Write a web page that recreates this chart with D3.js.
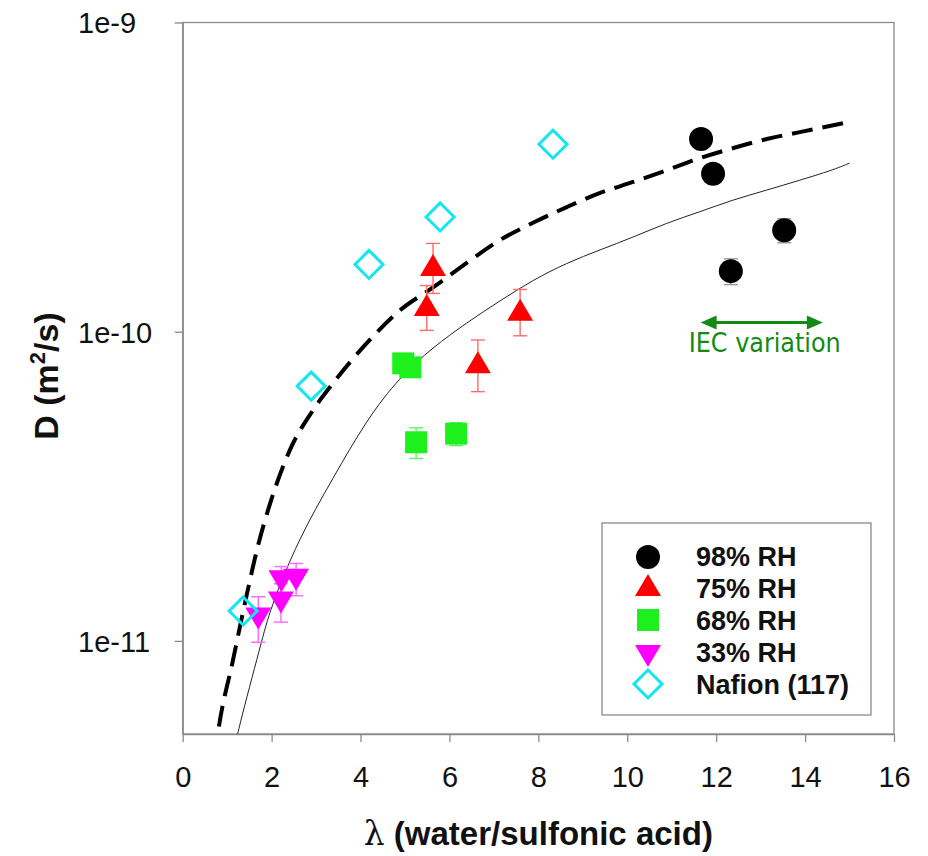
<!DOCTYPE html>
<html>
<head>
<meta charset="utf-8">
<script src="https://cdn.jsdelivr.net/npm/d3@7/dist/d3.min.js"></script>
<style>
  html, body { margin: 0; padding: 0; background: #fff; }
  svg { display: block; }
</style>
</head>
<body>
<svg id="chart" width="928" height="856"></svg>
<script>
// ---- Data ----
const xTicks = [0, 2, 4, 6, 8, 10, 12, 14, 16];
const yTicks = [1e-9, 1e-10, 1e-11];
const yTickLabels = ["1e-9", "1e-10", "1e-11"];

const rh98X = [11.66, 11.93, 13.53, 12.33];
const rh98Y = [4.2e-10, 3.24e-10, 2.13e-10, 1.57e-10];
const rh98E = [0, 0, 0.19e-10, 0.15e-10];

const rh75X = [5.63, 5.49, 6.64, 7.59];
const rh75Y = [1.63e-10, 1.21e-10, 7.9e-11, 1.17e-10];
const rh75E = [0.30e-10, 0.20e-10, 1.5e-11, 0.20e-10];

const rh68X = [4.96, 5.12, 5.25, 6.15];
const rh68Y = [7.9e-11, 7.67e-11, 4.39e-11, 4.68e-11];
const rh68E = [0, 0, 0.5e-11, 0.4e-11];

const rh33X = [1.70, 2.21, 2.22, 2.55];
const rh33Y = [1.19e-11, 1.34e-11, 1.57e-11, 1.59e-11];
const rh33E = [0.2e-11, 0.19e-11, 0.17e-11, 0.19e-11];

const nafionX = [1.36, 2.89, 4.19, 5.79, 8.33];
const nafionY = [1.25e-11, 6.67e-11, 1.65e-10, 2.35e-10, 4.04e-10];

const dashedX = [0.72, 0.79, 1.13, 1.45, 1.67, 2.01, 2.41, 2.93, 3.38, 4.14, 4.88, 5.63, 6.39, 7.14, 7.88, 8.64, 9.39, 10.13, 10.89, 11.63, 12.37, 13.14, 13.88, 15.0];
const dashedY = [4.2e-12, 5.0e-12, 8.65e-12, 1.43e-11, 1.97e-11, 2.91e-11, 4.14e-11, 5.57e-11, 6.81e-11, 9.18e-11, 1.17e-10, 1.39e-10, 1.67e-10, 1.98e-10, 2.25e-10, 2.53e-10, 2.81e-10, 3.05e-10, 3.33e-10, 3.64e-10, 3.92e-10, 4.20e-10, 4.42e-10, 4.77e-10];

const thinX = [1.15, 1.22, 1.78, 1.96, 2.59, 3.38, 4.14, 4.88, 5.63, 6.39, 7.14, 7.88, 8.64, 9.39, 10.13, 10.89, 11.63, 12.37, 13.14, 13.88, 14.62, 15.0];
const thinY = [4.3e-12, 5.0e-12, 1.0e-11, 1.26e-11, 2.12e-11, 3.36e-11, 5.2e-11, 7.13e-11, 8.91e-11, 1.07e-10, 1.26e-10, 1.47e-10, 1.67e-10, 1.84e-10, 2.02e-10, 2.25e-10, 2.44e-10, 2.67e-10, 2.87e-10, 3.09e-10, 3.33e-10, 3.51e-10];

const legendLabels = ["98% RH", "75% RH", "68% RH", "33% RH", "Nafion (117)"];
const iecArrowX = [11.65, 14.4];
const iecArrowY = 1.07e-10;
const iecLabel = "IEC variation";

// ---- Layout ----
const svg = d3.select("#chart");
const L = 182.7, R = 894, T = 22.5, B = 734;
const x = d3.scaleLinear().domain([0, 16]).range([L, R]);
const y = d3.scaleLog().domain([5e-12, 1e-9]).range([B, T]);
const axisColor = "#8a8a8a";

// clip
svg.append("defs").append("clipPath").attr("id", "plotclip")
  .append("rect").attr("x", L).attr("y", T).attr("width", R - L).attr("height", B - T);

// frame
svg.append("rect").attr("x", L).attr("y", T).attr("width", R - L).attr("height", B - T)
  .attr("fill", "none").attr("stroke", axisColor).attr("stroke-width", 1.3);

// axes
const xAxis = d3.axisBottom(x).tickValues(xTicks).tickSize(8).tickSizeOuter(0).tickFormat(d3.format("d"));
const gx = svg.append("g").attr("transform", `translate(0,${B})`).call(xAxis);
gx.select(".domain").attr("stroke", axisColor).attr("stroke-width", 1.3);
gx.selectAll(".tick line").attr("stroke", axisColor).attr("stroke-width", 1.3);
gx.selectAll(".tick text").attr("font-family", "Liberation Sans, Arial, sans-serif")
  .attr("font-size", 29).attr("fill", "#111").attr("dy", 0).attr("y", 53);

const yAxis = d3.axisLeft(y).tickValues(yTicks).tickSize(8).tickSizeOuter(0)
  .tickFormat((d, i) => yTickLabels[i]);
const gy = svg.append("g").attr("transform", `translate(${L},0)`).call(yAxis);
gy.select(".domain").attr("stroke", axisColor).attr("stroke-width", 1.3);
gy.selectAll(".tick line").attr("stroke", axisColor).attr("stroke-width", 1.3);
gy.selectAll(".tick text").attr("font-family", "Liberation Sans, Arial, sans-serif")
  .attr("font-size", 29).attr("fill", "#111").attr("text-anchor", "start")
  .attr("x", 78 - L).attr("dy", "0.36em");

// axis labels
const xl = svg.append("text").attr("x", (L + R) / 2).attr("y", 845).attr("text-anchor", "middle")
  .attr("font-family", "Liberation Sans, Arial, sans-serif").attr("font-weight", "bold")
  .attr("font-size", 33).attr("fill", "#111");
xl.append("tspan").attr("font-family", "DejaVu Serif, serif").attr("font-weight", "normal").text("λ");
xl.append("tspan").text(" (water/sulfonic acid)");

const yl = svg.append("text").attr("transform", `translate(58,376) rotate(-90)`).attr("text-anchor", "middle")
  .attr("font-family", "Liberation Sans, Arial, sans-serif").attr("font-weight", "bold")
  .attr("font-size", 34).attr("fill", "#111");
yl.append("tspan").text("D (m");
yl.append("tspan").attr("font-size", 22).attr("dy", -13).text("2");
yl.append("tspan").attr("dy", 13).text("/s)");

// curves
const plot = svg.append("g").attr("clip-path", "url(#plotclip)");
const lineDash = d3.line().x(d => x(d[0])).y(d => y(d[1])).curve(d3.curveMonotoneX);
const lineThin = d3.line().x(d => x(d[0])).y(d => y(d[1])).curve(d3.curveBasis);
plot.append("path").datum(thinX.map((v, i) => [v, thinY[i]]))
  .attr("d", lineThin).attr("fill", "none").attr("stroke", "#222").attr("stroke-width", 1);
plot.append("path").datum(dashedX.map((v, i) => [v, dashedY[i]]))
  .attr("d", lineDash).attr("fill", "none").attr("stroke", "#000").attr("stroke-width", 4)
  .attr("stroke-dasharray", "21,10");

// symbols
const sym = {
  circle: (g, s) => g.append("circle").attr("r", 12 * s),
  up: (g, s) => g.append("path").attr("d", `M0,${-12 * s}L${13 * s},${10 * s}L${-13 * s},${10 * s}Z`),
  square: (g, s) => g.append("rect").attr("x", -11 * s).attr("y", -11 * s).attr("width", 22 * s).attr("height", 22 * s),
  down: (g, s) => g.append("path").attr("d", `M0,${12 * s}L${13 * s},${-10 * s}L${-13 * s},${-10 * s}Z`),
  diamond: (g, s) => g.append("path").attr("d", `M0,${-14 * s}L${14 * s},0L0,${14 * s}L${-14 * s},0Z`)
};

const series = [
  {X: rh98X, Y: rh98Y, E: rh98E, shape: "circle", fill: "#000", stroke: "none", err: "#999"},
  {X: rh75X, Y: rh75Y, E: rh75E, shape: "up", fill: "#ff0000", stroke: "none", err: "#ff6a6a"},
  {X: rh68X, Y: rh68Y, E: rh68E, shape: "square", fill: "#1ef01e", stroke: "none", err: "#66ee66"},
  {X: rh33X, Y: rh33Y, E: rh33E, shape: "down", fill: "#ff00ff", stroke: "none", err: "#ff66ff"},
  {X: nafionX, Y: nafionY, E: null, shape: "diamond", fill: "none", stroke: "#12e6f0", err: null}
];

series.forEach(s => {
  if (!s.E) return;
  s.X.forEach((v, i) => {
    const e = s.E[i];
    if (!e) return;
    const cx = x(v), y1 = y(s.Y[i] + e), y2 = y(s.Y[i] - e);
    const g = plot.append("g").attr("stroke", s.err).attr("stroke-width", 1.4);
    g.append("line").attr("x1", cx).attr("x2", cx).attr("y1", y1).attr("y2", y2);
    g.append("line").attr("x1", cx - 7).attr("x2", cx + 7).attr("y1", y1).attr("y2", y1);
    g.append("line").attr("x1", cx - 7).attr("x2", cx + 7).attr("y1", y2).attr("y2", y2);
  });
});
series.forEach(s => {
  s.X.forEach((v, i) => {
    const g = plot.append("g").attr("transform", `translate(${x(v)},${y(s.Y[i])})`)
      .attr("fill", s.fill).attr("stroke", s.stroke).attr("stroke-width", 3);
    sym[s.shape](g, 1);
  });
});

// IEC arrow
const green = "#138a13";
const ax1 = x(iecArrowX[0]), ax2 = x(iecArrowX[1]), ay = y(iecArrowY);
svg.append("line").attr("x1", ax1 + 10).attr("x2", ax2 - 10).attr("y1", ay).attr("y2", ay)
  .attr("stroke", green).attr("stroke-width", 3);
svg.append("path").attr("d", `M${ax1},${ay}L${ax1 + 16},${ay - 7}L${ax1 + 16},${ay + 7}Z`).attr("fill", green);
svg.append("path").attr("d", `M${ax2},${ay}L${ax2 - 16},${ay - 7}L${ax2 - 16},${ay + 7}Z`).attr("fill", green);
svg.append("text").attr("x", (ax1 + ax2) / 2 + 3).attr("y", 352).attr("text-anchor", "middle")
  .attr("font-family", "DejaVu Sans Condensed, DejaVu Sans, sans-serif").attr("font-size", 26)
  .attr("fill", green).attr("textLength", 152).attr("lengthAdjust", "spacingAndGlyphs").text(iecLabel);

// legend
const lg = svg.append("g");
lg.append("rect").attr("x", 602).attr("y", 523).attr("width", 269).attr("height", 192)
  .attr("fill", "#fff").attr("stroke", axisColor).attr("stroke-width", 1.3);
const legSymY = [557, 586, 620, 655, 684];
const legTextY = [566, 598, 630, 662, 694];
series.forEach((s, i) => {
  const g = lg.append("g").attr("transform", `translate(648,${legSymY[i]})`)
    .attr("fill", s.fill).attr("stroke", s.stroke).attr("stroke-width", 3);
  sym[s.shape](g, 1);
  lg.append("text").attr("x", 696).attr("y", legTextY[i])
    .attr("font-family", "Liberation Sans, Arial, sans-serif").attr("font-weight", "bold")
    .attr("font-size", 27).attr("fill", "#111").text(legendLabels[i]);
});
</script>
</body>
</html>
